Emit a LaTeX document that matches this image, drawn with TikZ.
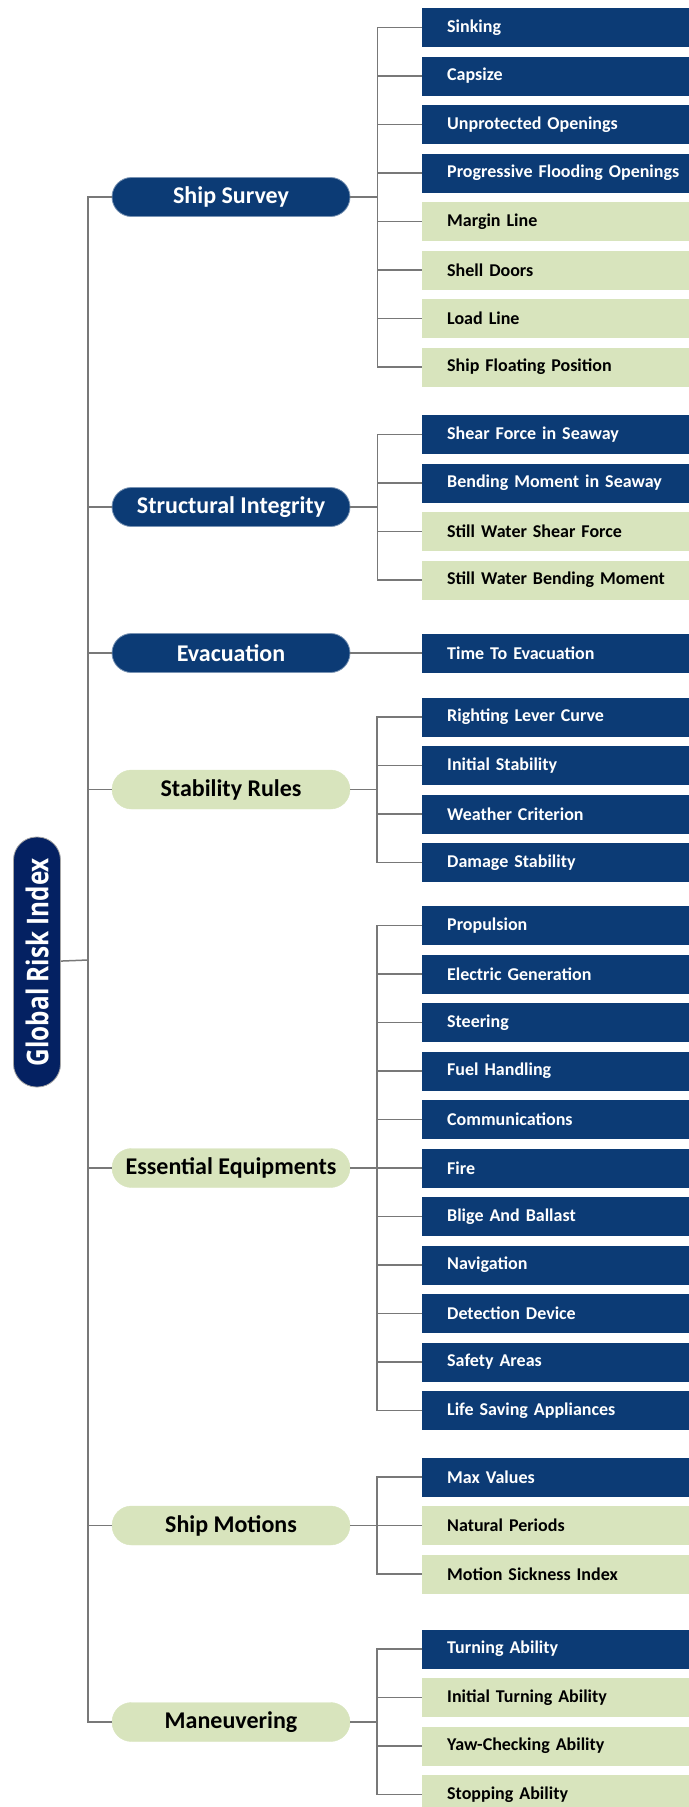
\documentclass[tikz,border=0pt]{standalone}
\usepackage{fontspec}
\setmainfont{Carlito}
\newfontfamily\racinefont{Open Sans}
\usepackage{tikz}
\usetikzlibrary{positioning,calc}

\definecolor{bleufonce}{RGB}{12,59,117}
\definecolor{marine}{RGB}{4,33,98}
\definecolor{vertpale}{RGB}{216,228,189}
\definecolor{gristrait}{RGB}{120,120,120}

\begin{document}
\begin{tikzpicture}[x=1pt,y=-1pt]
%styles : racine, catégories et feuilles de l'arbre
\tikzset{racine/.style={rotate=90,fill=marine,draw=gray!70,line width=0.8pt,text=white,rounded corners=23pt,minimum width=250pt,minimum height=47pt,inner sep=0pt,font=\racinefont\bfseries\fontsize{30}{32}\selectfont},
categorie/.style={rounded corners=19.5pt,minimum width=238pt,minimum height=39pt,inner sep=0pt,font=\bfseries\fontsize{24}{26}\selectfont},
catbleue/.style={categorie,fill=bleufonce,draw=bleufonce!55!white,line width=0.8pt,text=white},
catverte/.style={categorie,fill=vertpale,draw=vertpale,text=black},
feuille/.style={anchor=west,text width=260pt,inner xsep=25pt,inner ysep=0pt,minimum height=39pt,align=left,font=\bfseries\fontsize{18}{20}\selectfont},
fb/.style={feuille,fill=bleufonce,text=white},
fv/.style={feuille,fill=vertpale,text=black},
trait/.style={draw=gristrait,line width=1.5pt}}
\useasboundingbox (0,0) rectangle (688,1807);

\node[racine] (racine) at (37,962) {\scalebox{0.81}[1]{Global Risk Index}};

%catégories
\node[catbleue] (catss) at (231,197) {Ship Survey};
\node[catbleue] (catsi) at (231,507) {Structural Integrity};
\node[catbleue] (catev) at (231,653) {Evacuation};
\node[catverte] (catsr) at (231,789.5) {Stability Rules};
\node[catverte] (catee) at (231,1168) {Essential Equipments};
\node[catverte] (catsm) at (231,1525.5) {Ship Motions};
\node[catverte] (catma) at (231,1722) {Maneuvering};

%feuilles
\foreach \txt/\sty [count=\i] in {Sinking/fb,Capsize/fb,Unprotected Openings/fb,Progressive Flooding Openings/fb,Margin Line/fv,Shell Doors/fv,Load Line/fv,Ship Floating Position/fv}
  \node[\sty] (ss\i) at (422,{27.5+48.5*(\i-1)}) {\txt};
\foreach \txt/\sty [count=\i] in {Shear Force in Seaway/fb,Bending Moment in Seaway/fb,Still Water Shear Force/fv,Still Water Bending Moment/fv}
  \node[\sty] (si\i) at (422,{434.5+48.5*(\i-1)}) {\txt};
\node[fb] (ev1) at (422,653) {Time To Evacuation};
\foreach \txt [count=\i] in {Righting Lever Curve,Initial Stability,Weather Criterion,Damage Stability}
  \node[fb] (sr\i) at (422,{717+48.5*(\i-1)}) {\txt};
\foreach \txt [count=\i] in {Propulsion,Electric Generation,Steering,Fuel Handling,Communications,Fire,Blige And Ballast,Navigation,Detection Device,Safety Areas,Life Saving Appliances}
  \node[fb] (ee\i) at (422,{925.5+48.5*(\i-1)}) {\txt};
\foreach \txt/\sty [count=\i] in {Max Values/fb,Natural Periods/fv,Motion Sickness Index/fv}
  \node[\sty] (sm\i) at (422,{1477+48.5*(\i-1)}) {\txt};
\foreach \txt/\sty [count=\i] in {Turning Ability/fb,Initial Turning Ability/fv,Yaw-Checking Ability/fv,Stopping Ability/fv}
  \node[\sty] (ma\i) at (422,{1649+48.5*(\i-1)}) {\txt};

%tronc
\coordinate (tronc) at (88,960);
\draw[trait] (racine) -- (tronc);
\foreach \c in {catss,catsi,catev,catsr,catee,catsm,catma}
  \draw[trait] (tronc) |- (\c.west);

%branches vers les feuilles
\foreach \c/\n in {ss/8,si/4,sr/4,ee/11,sm/3,ma/4}{
  \coordinate (br\c) at ($(cat\c.east)+(27,0)$);
  \draw[trait] (cat\c.east) -- (br\c);
  \foreach \i in {1,...,\n}
    \draw[trait] (br\c) |- (\c\i.west);
}
\draw[trait] (catev.east) -- (ev1.west);
\end{tikzpicture}
\end{document}
